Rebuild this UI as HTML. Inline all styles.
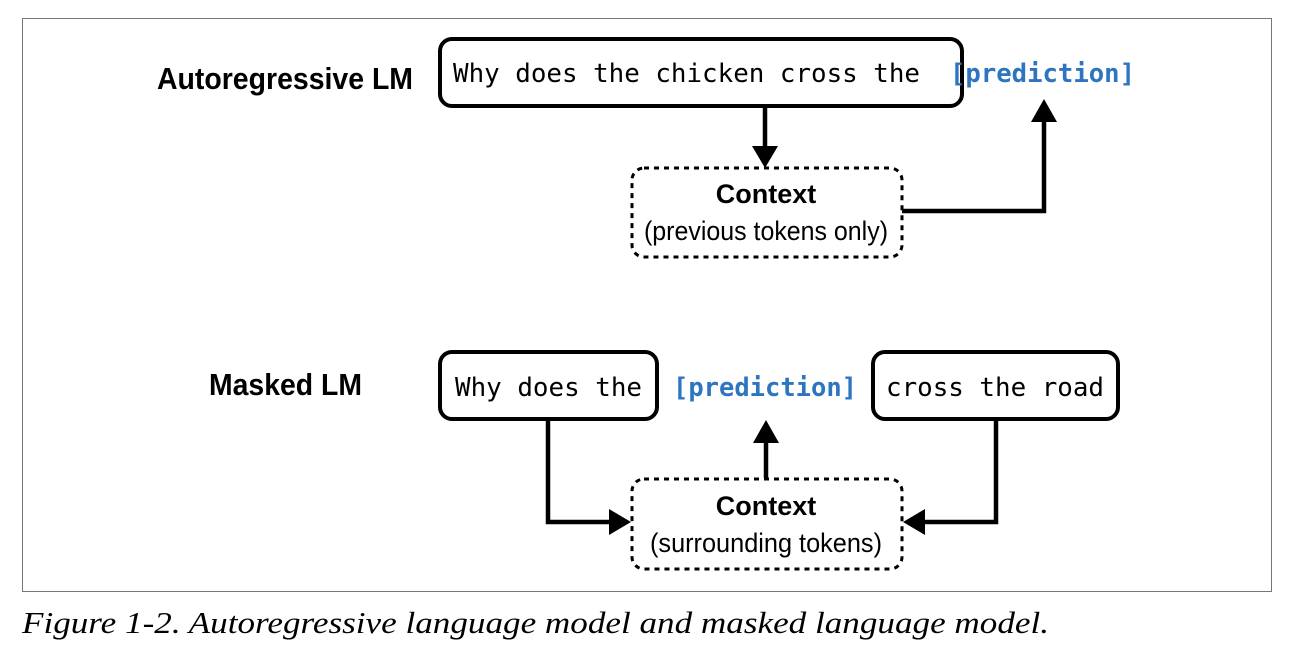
<!DOCTYPE html>
<html><head><meta charset="utf-8"><style>
html,body{margin:0;padding:0;background:#fff;}
svg{display:block;}
.mono{font-family:"DejaVu Sans Mono","Liberation Mono",monospace;font-size:26px;}
.pred{font-family:"DejaVu Sans Mono","Liberation Mono",monospace;font-size:26px;font-weight:bold;fill:#2e75c0;}
.lbl{font-family:"Liberation Sans Narrow","Liberation Sans",sans-serif;font-weight:bold;font-size:31px;}
.ctx{font-family:"Liberation Sans Narrow","Liberation Sans",sans-serif;font-weight:bold;font-size:27px;}
.sub{font-family:"Liberation Sans Narrow","Liberation Sans",sans-serif;font-size:27px;}
.cap{font-family:"Liberation Serif",serif;font-style:italic;font-size:31px;}
</style></head><body>
<svg width="1290" height="652" viewBox="0 0 1290 652" xmlns="http://www.w3.org/2000/svg">
<rect x="22.5" y="18.5" width="1249" height="573" fill="none" stroke="#777" stroke-width="1"/>
<text class="lbl" x="157" y="89" textLength="256" lengthAdjust="spacingAndGlyphs">Autoregressive LM</text>
<rect x="440" y="39" width="522" height="67" rx="12" fill="none" stroke="#000" stroke-width="4"/>
<text class="mono" x="453" y="82" textLength="467" lengthAdjust="spacingAndGlyphs">Why does the chicken cross the</text>
<text class="pred" x="950" y="82" textLength="185" lengthAdjust="spacingAndGlyphs">[prediction]</text>
<line x1="765" y1="106" x2="765" y2="148" stroke="#000" stroke-width="4.5"/>
<polygon points="752,146 778,146 765,168" fill="#000"/>
<rect x="632" y="168" width="270" height="89" rx="12" fill="none" stroke="#000" stroke-width="3" stroke-dasharray="5,5"/>
<text class="ctx" x="766" y="203" text-anchor="middle">Context</text>
<text class="sub" x="766" y="240" text-anchor="middle" textLength="244" lengthAdjust="spacingAndGlyphs">(previous tokens only)</text>
<polyline points="902,211 1044,211 1044,118" fill="none" stroke="#000" stroke-width="4.5"/>
<polygon points="1031,122 1057,122 1044,99" fill="#000"/>
<text class="lbl" x="209" y="395" textLength="153" lengthAdjust="spacingAndGlyphs">Masked LM</text>
<rect x="440" y="352" width="217" height="67" rx="12" fill="none" stroke="#000" stroke-width="4"/>
<text class="mono" x="455" y="396" textLength="187" lengthAdjust="spacingAndGlyphs">Why does the</text>
<text class="pred" x="673" y="396" textLength="184" lengthAdjust="spacingAndGlyphs">[prediction]</text>
<rect x="873" y="352" width="245" height="67" rx="12" fill="none" stroke="#000" stroke-width="4"/>
<text class="mono" x="886" y="396" textLength="218" lengthAdjust="spacingAndGlyphs">cross the road</text>
<line x1="766" y1="478" x2="766" y2="440" stroke="#000" stroke-width="4.5"/>
<polygon points="753,443 779,443 766,420" fill="#000"/>
<rect x="632" y="479" width="270" height="90" rx="12" fill="none" stroke="#000" stroke-width="3" stroke-dasharray="5,5"/>
<text class="ctx" x="766" y="515" text-anchor="middle">Context</text>
<text class="sub" x="766" y="552" text-anchor="middle" textLength="232" lengthAdjust="spacingAndGlyphs">(surrounding tokens)</text>
<polyline points="548,419 548,522 612,522" fill="none" stroke="#000" stroke-width="4.5"/>
<polygon points="609,509 609,535 631,522" fill="#000"/>
<polyline points="996,419 996,522 922,522" fill="none" stroke="#000" stroke-width="4.5"/>
<polygon points="925,509 925,535 903,522" fill="#000"/>
<text class="cap" x="22" y="633" textLength="1027" lengthAdjust="spacingAndGlyphs">Figure 1-2. Autoregressive language model and masked language model.</text>
</svg>
</body></html>
